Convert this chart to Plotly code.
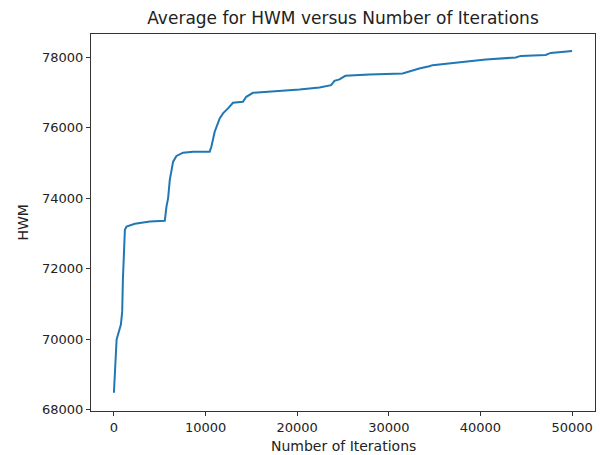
import plotly.graph_objects as go

iterations = [0, 294, 762, 904, 980, 1198, 1383, 2287, 3920, 4465, 5554, 5735, 5913,
              6098, 6460, 6825, 7550, 8640, 10454, 10636, 10999, 11543, 11906, 12450,
              12994, 14083, 14446, 15170, 16804, 18077, 20255, 22433, 23707, 24066,
              24611, 25264, 27878, 31505, 32594, 33323, 34412, 34775, 38040, 40585,
              43850, 44400, 47120, 47660, 49999]
hwm = [68481, 69991, 70416, 70784, 71690, 73107, 73201, 73277, 73342, 73342, 73362,
       73767, 74000, 74524, 75042, 75204, 75297, 75326, 75326, 75467, 75892, 76272,
       76413, 76555, 76714, 76742, 76884, 76997, 77025, 77045, 77093, 77150, 77215,
       77337, 77377, 77479, 77518, 77547, 77640, 77688, 77750, 77782, 77875, 77943,
       78000, 78045, 78074, 78130, 78187]

x_ticks = [0, 10000, 20000, 30000, 40000, 50000]
y_ticks = [68000, 70000, 72000, 74000, 76000, 78000]

W, H = 600, 455
L, R, T, B = 91, 5, 34, 44

fig = go.Figure()
fig.add_trace(go.Scatter(x=iterations, y=hwm, mode="lines",
                         line=dict(color="#1f77b4", width=2), showlegend=False))

font = "DejaVu Sans, sans-serif"
axis_common = dict(showline=True, linecolor="#333333", linewidth=1, mirror=True,
                   ticks="outside", ticklen=4, tickcolor="#333333", showgrid=False,
                   zeroline=False, automargin=False,
                   tickfont=dict(family=font, size=13, color="#222222"))

fig.update_layout(
    width=W, height=H,
    margin=dict(l=L, r=R, t=T, b=B, autoexpand=False),
    paper_bgcolor="white", plot_bgcolor="white",
    title=dict(text="Average for HWM versus Number of Iterations",
               x=(L + W - R) / 2 / W, xanchor="center",
               y=1 - 18 / H, yanchor="middle", automargin=False,
               font=dict(family=font, size=17, color="#222222")),
    xaxis=dict(range=[-2500, 52500], tickvals=x_ticks,
               ticktext=[str(v) for v in x_ticks], **axis_common),
    yaxis=dict(range=[67963, 78667], tickvals=y_ticks,
               ticktext=[str(v) for v in y_ticks], **axis_common),
    annotations=[
        dict(text="Number of Iterations", xref="paper", yref="paper",
             x=0.5, y=-(446 - (H - B)) / (H - T - B), xanchor="center", yanchor="middle",
             showarrow=False, font=dict(family=font, size=14, color="#222222")),
        dict(text="HWM", xref="paper", yref="paper", textangle=-90,
             x=-(L - 22) / (W - L - R), y=0.5, xanchor="center", yanchor="middle",
             showarrow=False, font=dict(family=font, size=14, color="#222222")),
    ],
)

fig.write_html("out.html", config={"displayModeBar": False},
               post_script="document.body.style.margin='0';document.body.style.overflow='hidden';")
